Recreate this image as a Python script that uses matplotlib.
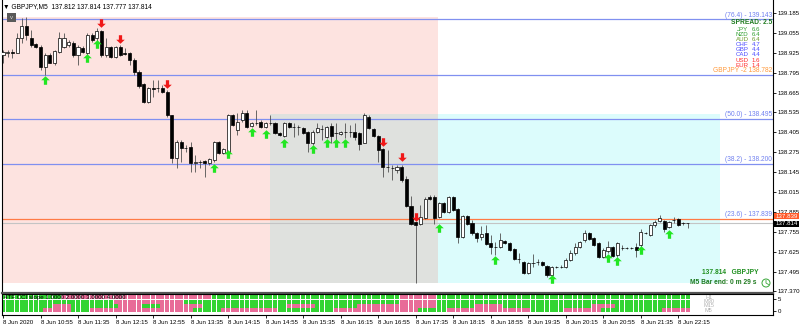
import matplotlib
matplotlib.use("Agg")
import matplotlib.pyplot as plt
from matplotlib.patches import Rectangle, Circle
from matplotlib.path import Path
import matplotlib.transforms as mtransforms

plt.rcParams['font.family'] = ['Liberation Sans Narrow', 'Liberation Sans', 'DejaVu Sans']

# ---------------- data ----------------
symbol_header = "\u25BC GBPJPY,M5  137.812 137.814 137.777 137.814"

opens = [138.911,138.924,138.930,138.924,139.022,139.100,139.022,138.982,138.963,138.832,
         138.911,138.858,138.930,138.963,138.976,138.989,138.911,138.956,138.924,139.041,
         139.022,139.067,138.911,138.963,138.897,138.963,138.924,138.924,138.878,138.799,
         138.721,138.603,138.695,138.695,138.695,138.669,138.518,138.237,138.342,138.303,
         138.309,138.205,138.211,138.218,138.205,138.224,138.342,138.270,138.277,138.518,
         138.420,138.486,138.531,138.446,138.466,138.473,138.440,138.466,138.466,138.401,
         138.381,138.466,138.440,138.440,138.433,138.407,138.335,138.407,138.427,138.375,
         138.446,138.401,138.394,138.407,138.407,138.407,138.401,138.335,138.505,138.427,
         138.381,138.296,138.178,138.172,138.159,138.178,138.100,137.924,137.819,137.806,
         137.845,137.982,137.982,137.852,137.943,137.884,137.982,137.904,137.721,137.858,
         137.812,137.747,137.721,137.747,137.682,137.656,137.656,137.695,137.682,137.643,
         137.577,137.558,137.486,137.551,137.558,137.558,137.531,137.473,137.525,137.525,
         137.525,137.571,137.617,137.656,137.701,137.747,137.714,137.682,137.590,137.630,
         137.656,137.603,137.649,137.649,137.649,137.656,137.669,137.747,137.734,137.799,
         137.826,137.826,137.786,137.832,137.839,137.813,137.812]
highs = [138.943,138.943,138.950,139.054,139.152,139.159,139.074,138.989,138.976,138.924,
         138.924,138.943,139.061,139.054,139.009,139.002,138.976,138.969,139.054,139.054,
         139.087,139.074,139.022,138.969,138.969,138.976,138.956,138.930,138.891,138.812,
         138.728,138.701,138.747,138.747,138.714,138.682,138.518,138.355,138.355,138.322,
         138.342,138.257,138.224,138.224,138.237,138.348,138.348,138.303,138.525,138.525,
         138.531,138.551,138.551,138.473,138.551,138.486,138.473,138.518,138.473,138.407,
         138.473,138.473,138.466,138.453,138.440,138.414,138.420,138.466,138.453,138.446,
         138.466,138.466,138.414,138.466,138.453,138.466,138.407,138.531,138.518,138.433,
         138.388,138.303,138.290,138.192,138.192,138.192,138.120,137.989,137.819,137.930,
         137.982,137.995,137.995,137.950,137.950,137.989,137.989,137.911,137.865,137.865,
         137.832,137.754,137.793,137.799,137.734,137.688,137.747,137.701,137.688,137.649,
         137.617,137.564,137.558,137.610,137.577,137.564,137.538,137.531,137.531,137.538,
         137.584,137.636,137.682,137.695,137.767,137.754,137.721,137.688,137.649,137.695,
         137.662,137.688,137.669,137.656,137.656,137.682,137.773,137.754,137.806,137.832,
         137.865,137.832,137.826,137.852,137.845,137.819,137.814]
lows = [138.858,138.897,138.891,138.924,138.989,139.009,138.963,138.956,138.812,138.780,
        138.858,138.845,138.924,138.956,138.963,138.897,138.845,138.924,138.911,138.995,
        138.989,138.897,138.897,138.891,138.891,138.904,138.911,138.845,138.780,138.695,
        138.597,138.597,138.636,138.669,138.662,138.505,138.205,138.172,138.211,138.277,
        138.146,138.146,138.172,138.113,138.192,138.211,138.264,138.264,138.270,138.446,
        138.388,138.473,138.433,138.440,138.453,138.433,138.433,138.453,138.394,138.381,
        138.375,138.433,138.375,138.388,138.394,138.277,138.322,138.401,138.355,138.368,
        138.335,138.342,138.388,138.368,138.375,138.355,138.290,138.335,138.427,138.375,
        138.211,138.113,138.146,138.094,138.139,138.080,137.917,137.799,137.420,137.799,
        137.839,137.963,137.806,137.845,137.878,137.878,137.891,137.682,137.714,137.799,
        137.734,137.688,137.701,137.669,137.610,137.603,137.649,137.675,137.630,137.571,
        137.551,137.479,137.479,137.525,137.538,137.531,137.460,137.466,137.518,137.518,
        137.518,137.564,137.603,137.649,137.688,137.701,137.662,137.584,137.584,137.617,
        137.590,137.590,137.636,137.643,137.643,137.590,137.656,137.741,137.727,137.786,
        137.819,137.754,137.780,137.812,137.793,137.799,137.777]
closes = [138.930,138.930,138.924,139.022,139.100,139.041,138.976,138.963,138.832,138.911,
          138.858,138.937,139.022,139.022,138.995,138.911,138.963,138.930,139.041,139.009,
          139.067,138.911,138.963,138.897,138.963,138.911,138.917,138.878,138.799,138.708,
          138.603,138.695,138.690,138.697,138.669,138.518,138.237,138.342,138.303,138.300,
          138.205,138.208,138.209,138.205,138.231,138.342,138.270,138.296,138.518,138.453,
          138.473,138.531,138.440,138.466,138.463,138.440,138.466,138.464,138.401,138.388,
          138.466,138.440,138.438,138.441,138.401,138.335,138.407,138.433,138.429,138.440,
          138.381,138.399,138.407,138.405,138.408,138.375,138.329,138.518,138.433,138.381,
          138.290,138.178,138.176,138.170,138.178,138.094,137.924,137.806,137.799,137.852,
          137.969,137.969,137.845,137.943,137.884,137.982,137.898,137.721,137.858,137.806,
          137.747,137.714,137.741,137.675,137.656,137.654,137.701,137.682,137.636,137.577,
          137.575,137.486,137.551,137.549,137.556,137.538,137.473,137.525,137.523,137.527,
          137.571,137.617,137.656,137.688,137.747,137.708,137.669,137.590,137.636,137.656,
          137.597,137.682,137.651,137.647,137.650,137.636,137.754,137.749,137.799,137.819,
          137.845,137.773,137.819,137.830,137.799,137.812,137.814]

up_idx = [9, 18, 20, 45, 48, 53, 56, 60, 66, 69, 71, 73, 93, 105, 117, 129, 131, 136, 142]
up_price = [138.747, 138.891, 138.982, 138.172, 138.264, 138.407, 138.394, 138.335, 138.296,
            138.335, 138.335, 138.335, 137.780, 137.571, 137.447, 137.584, 137.564, 137.636, 137.741]
dn_idx = [21, 25, 35, 81, 85, 88]
dn_price = [139.120, 139.015, 138.721, 138.342, 138.244, 137.852]

fib_levels = [139.143, 138.495, 138.200]
fib_labels = ["(76.4) - 139.143", "(50.0) - 138.495", "(38.2) - 138.200"]
fib_236 = 137.839
fib_236_label = "(23.6) - 137.839"
pivot_level = 138.782
pivot_label = "GBPJPY -2 138.782"
bid_price = 137.814

# rectangles: (x_start_bar, x_end_bar, price_low, price_high)
rect_pink = (-0.2, 92.75, 137.420, 139.159)
rect_gray = (56.9, 92.75, 137.420, 138.525)
rect_cyan = (92.75, 152.9, 137.420, 138.525)

price_ticks = [139.185, 139.055, 138.925, 138.795, 138.665, 138.535, 138.405, 138.275,
               138.145, 138.015, 137.885, 137.755, 137.625, 137.495, 137.370]
time_tick_idx = list(range(0, 145, 8))
time_labels = ["8 Jun 2020", "8 Jun 10:55", "8 Jun 11:35", "8 Jun 12:15", "8 Jun 12:55",
               "8 Jun 13:35", "8 Jun 14:15", "8 Jun 14:55", "8 Jun 15:35", "8 Jun 16:15",
               "8 Jun 16:55", "8 Jun 17:35", "8 Jun 18:15", "8 Jun 18:55", "8 Jun 19:35",
               "8 Jun 20:15", "8 Jun 20:55", "8 Jun 21:35", "8 Jun 22:15"]

cur_names = ["JPY", "NZD", "AUD", "CHF", "GBP", "CAD", "USD", "EUR"]
cur_values = ["6.6", "6.4", "6.4", "4.7", "4.4", "4.4", "1.6", "1.4"]
cur_colors = ["#2e9e2e", "#2e9e2e", "#6a9a2a", "#4a4aff", "#4a4aff", "#4a4aff", "#ff2a2a", "#ff2a2a"]

# CCI slope rows (top -> bottom: H1, M30, M15, M5), run lengths of g/p
cci_rows = [
    [('g', 13), ('p', 32), ('g', 40), ('p', 8), ('g', 54)],
    [('g', 24), ('p', 15), ('g', 46), ('p', 8), ('g', 54)],
    [('g', 11), ('p', 4), ('g', 10), ('p', 5), ('g', 4), ('p', 9), ('g', 18), ('p', 6), ('g', 9),
     ('p', 17), ('g', 8), ('p', 6), ('g', 19), ('p', 5), ('g', 16)],
    [('g', 9), ('p', 6), ('g', 4), ('p', 22), ('g', 6), ('p', 12), ('g', 12), ('p', 18), ('g', 6),
     ('p', 18), ('g', 7), ('p', 8), ('g', 13), ('p', 6)],
]
cci_row_levels = [4, 3, 2, 1]
tf_names = ["H1", "M30", "M15", "M5"]

# ---------------- figure ----------------
W, H = 800, 328
fig = plt.figure(figsize=(W / 100, H / 100), dpi=100)
fig.patch.set_facecolor('white')

def fx(px):
    return px / W

def fy(py):
    return 1 - py / H

FS = 4.8     # general text
AFS = 4.4    # axis tick labels

ax = fig.add_axes([fx(2), fy(293), fx(771), 293 / H])
axi = fig.add_axes([fx(2), fy(315), fx(771), 21 / H])

n = len(opens)
xs = list(range(n))
XL = (-0.213, 164.18)

# background rectangles
for (x0, x1, p0, p1), col in [(rect_pink, '#fde3e0'), (rect_gray, '#dfe1de'), (rect_cyan, '#dcfcfc')]:
    ax.add_patch(Rectangle((x0, p0), x1 - x0, p1 - p0, facecolor=col, edgecolor='none', zorder=0))

# lines
for lv in fib_levels + [pivot_level]:
    ax.axhline(lv, color='#8090f0', lw=0.9, zorder=1)
ax.axhline(fib_236, color='#ff7a45', lw=0.9, zorder=1)
ax.axhline(bid_price, color='#c4c4c4', lw=0.8, zorder=1)

# candles
for i in xs:
    o, h, l, c = opens[i], highs[i], lows[i], closes[i]
    ax.vlines(i, l, h, color='#505050', lw=0.6, zorder=2)
    bull = c >= o
    lo, hi = (o, c) if bull else (c, o)
    hgt = max(hi - lo, 0.0008)
    ax.bar(i, hgt, bottom=lo, width=0.66, color='white' if bull else 'black',
           edgecolor='black', linewidth=0.5, zorder=3)

# arrows
up_path = Path([(0, 1), (1, 0.05), (0.38, 0.05), (0.38, -1), (-0.38, -1), (-0.38, 0.05), (-1, 0.05), (0, 1)],
               [Path.MOVETO] + [Path.LINETO] * 6 + [Path.CLOSEPOLY])
dn_path = Path([(x, -y) for x, y in up_path.vertices], up_path.codes)
ax.scatter(up_idx, up_price, marker=up_path, s=38, color='#22e622', linewidths=0, zorder=4)
ax.scatter(dn_idx, dn_price, marker=dn_path, s=38, color='#f01818', linewidths=0, zorder=4)

# fib labels
blend = mtransforms.blended_transform_factory(ax.transAxes, ax.transData)
for lv, lab in zip(fib_levels + [fib_236], fib_labels + [fib_236_label]):
    ax.text(0.999, lv + 0.006, lab, transform=blend, ha='right', va='bottom', fontsize=FS,
            color='#7080f0', zorder=5)
ax.text(0.999, pivot_level + 0.006, pivot_label, transform=blend, ha='right', va='bottom',
        fontsize=FS, color='#ff9a3c', zorder=5)

# price boxes on axis
ax.text(1.003, fib_236 + 0.019, f"{fib_236:.3f}", transform=blend, ha='left', va='center',
        fontsize=AFS, color='white', clip_on=False, zorder=6,
        bbox=dict(facecolor='#ff5a2a', edgecolor='none', pad=0.6))
ax.text(1.003, bid_price - 0.008, f"{bid_price:.3f}", transform=blend, ha='left', va='center',
        fontsize=AFS, color='white', clip_on=False, zorder=7,
        bbox=dict(facecolor='black', edgecolor='none', pad=0.6))

ax.set_xlim(*XL)
ax.set_ylim(139.270 - 293 / 153, 139.270)
ax.yaxis.tick_right()
ax.set_yticks(price_ticks)
ax.set_yticklabels([f"{p:.3f}" for p in price_ticks], fontsize=AFS)
ax.tick_params(axis='y', length=2, width=0.6, pad=1.5, colors='black')
ax.set_xticks([])
ax.spines['top'].set_visible(False)
for s in ['left', 'right']:
    ax.spines[s].set_linewidth(0.8)
ax.spines['bottom'].set_linewidth(1.6)
ax.spines['bottom'].set_color('#555555')

# indicator panel
for row, lvl in zip(cci_rows, cci_row_levels):
    gx, px_ = [], []
    k = 0
    for col, cnt in row:
        for _ in range(cnt):
            (gx if col == 'g' else px_).append(k)
            k += 1
    axi.scatter(gx, [lvl] * len(gx), marker='s', s=7.2, color='#33d433', linewidths=0)
    axi.scatter(px_, [lvl] * len(px_), marker='s', s=7.2, color='#e86c98', linewidths=0)
axi.set_xlim(*XL)
axi.set_ylim(-0.18, 4.78)
axi.yaxis.tick_right()
axi.set_yticks([3.6, 0.76])
axi.set_yticklabels(["5", "0"], fontsize=AFS)
axi.tick_params(axis='y', length=2, width=0.6, pad=1.5)
axi.set_xticks(time_tick_idx)
axi.set_xticklabels(time_labels, fontsize=AFS)
for lab in axi.get_xticklabels():
    lab.set_ha('left')
axi.tick_params(axis='x', length=2, width=0.6, pad=1.5)
for s in axi.spines.values():
    s.set_linewidth(0.8)
axi.text(0.003, 0.93, "4TF CCI slope 1.0000 2.0000 3.0000 4.0000", transform=axi.transAxes,
         fontsize=AFS, va='top', ha='left', color='black', zorder=5)
for name, lvl in zip(tf_names, cci_row_levels):
    axi.text(150.5, lvl, name, fontsize=AFS - 0.4, color='#b0b0b0', ha='center', va='center')

# overlay for free text
ov = fig.add_axes([0, 0, 1, 1], zorder=10)
ov.set_xlim(0, W)
ov.set_ylim(H, 0)
ov.axis('off')
ov.patch.set_alpha(0)

ov.text(3, 6.5, symbol_header, fontsize=FS, va='center', ha='left', color='black')
ov.add_patch(Rectangle((7, 13), 9, 9, facecolor='#5a5a5a', edgecolor='none'))
ov.text(11.5, 17.5, "v", fontsize=FS - 0.5, color='#dddddd', ha='center', va='center')

ov.text(772, 22.5, "SPREAD: 2.5", fontsize=FS, color='#1e7a1e', fontweight='bold', ha='right', va='center')
for j, (nm, vv, cc) in enumerate(zip(cur_names, cur_values, cur_colors)):
    yy = 29.5 + j * 5.1
    ov.text(748.5, yy, nm, fontsize=FS - 0.4, color=cc, ha='right', va='center')
    ov.text(752, yy, vv, fontsize=FS - 0.4, color=cc, ha='left', va='center')

ov.text(758, 272, "137.814   GBPJPY", fontsize=FS, color='#1f8f1f', fontweight='bold', ha='right', va='center')
ov.text(757, 283, "M5 Bar end: 0 m 29 s", fontsize=FS, color='#1f7a1f', fontweight='bold', ha='right', va='center')
ov.add_patch(Circle((766, 283), 4, facecolor='none', edgecolor='#3aa83a', lw=0.7))
ov.plot([766, 766, 768.5], [280.3, 283, 284.5], color='#3aa83a', lw=0.6)

fig.savefig("out.png", dpi=100)
